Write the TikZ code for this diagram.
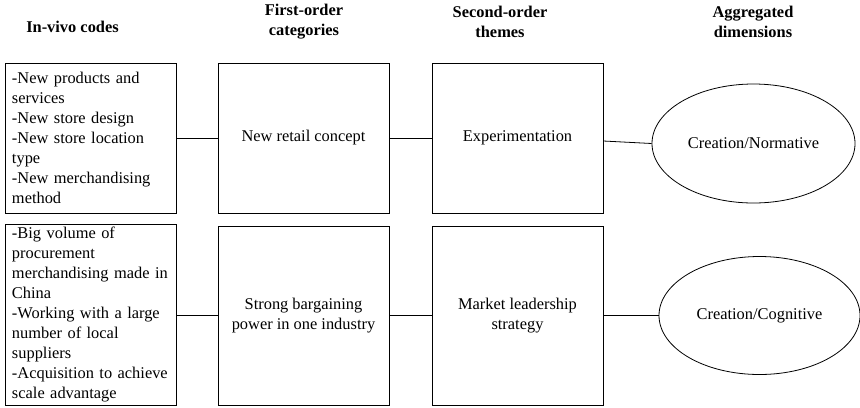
\documentclass[tikz,border=0pt]{standalone}
\usepackage{fontspec}
\setmainfont{Liberation Serif}
\usetikzlibrary{shapes.geometric}
\tikzset{
  base/.style={font=\fontsize{16.4bp}{19.9bp}\selectfont, text=black},
  head/.style={base, font=\fontsize{16.4bp}{19.9bp}\selectfont\bfseries, align=center},
  codebox/.style={base, draw=black, line width=0.8bp, rectangle, inner xsep=7bp, inner ysep=0pt, text width=157bp, align=left, anchor=center},
  catbox/.style={base, draw=black, line width=0.8bp, rectangle, inner sep=0pt, minimum width=171bp, align=center, anchor=center},
  dimell/.style={base, draw=black, line width=0.8bp, ellipse, inner sep=0pt, align=center},
  link/.style={draw=black, line width=0.8bp}
}
\begin{document}
\begin{tikzpicture}[x=1bp,y=-1bp]
\useasboundingbox (0,0) rectangle (860,407);
% headers
\node[head] (h1) at (72.5,27) {In-vivo codes};
\node[head] (h2) at (304,22) {First-order\\categories};
\node[head] (h3) at (500,22) {Second-order\\themes};
\node[head] (h4) at (753,22) {Aggregated\\dimensions};
% row 1
\node[codebox, minimum height=150bp] (c1) at (90.5,138) {-New products and\\services\\-New store design\\-New store location\\type\\-New merchandising\\method};
\node[catbox, minimum height=150bp] (f1) at (303.5,138) {New retail concept};
\node[catbox, minimum height=150bp] (s1) at (517.5,138) {Experimentation};
\node[dimell, minimum width=203bp, minimum height=119bp] (d1) at (753.5,143.5) {Creation/Normative};
% row 2
\node[codebox, minimum height=181bp] (c2) at (90.5,314.5) {-Big volume of\\procurement\\merchandising made in\\China\\-Working with a large\\number of local\\suppliers\\-Acquisition to achieve\\scale advantage};
\node[catbox, minimum height=179bp] (f2) at (303.5,315.5) {Strong bargaining\\power in one industry};
\node[catbox, minimum height=179bp] (s2) at (517.5,315.5) {Market leadership\\strategy};
\node[dimell, minimum width=201bp, minimum height=118bp] (d2) at (759.5,315.5) {Creation/Cognitive};
% connectors
\draw[link] (c1.east |- f1.west) -- (f1.west);
\draw[link] (f1.east) -- (s1.west);
\draw[link] ([yshift=-3bp]s1.east) -- (d1.west);
\draw[link] (c2.east |- f2.west) -- (f2.west);
\draw[link] (f2.east) -- (s2.west);
\draw[link] (s2.east) -- (d2.west);
\end{tikzpicture}
\end{document}
